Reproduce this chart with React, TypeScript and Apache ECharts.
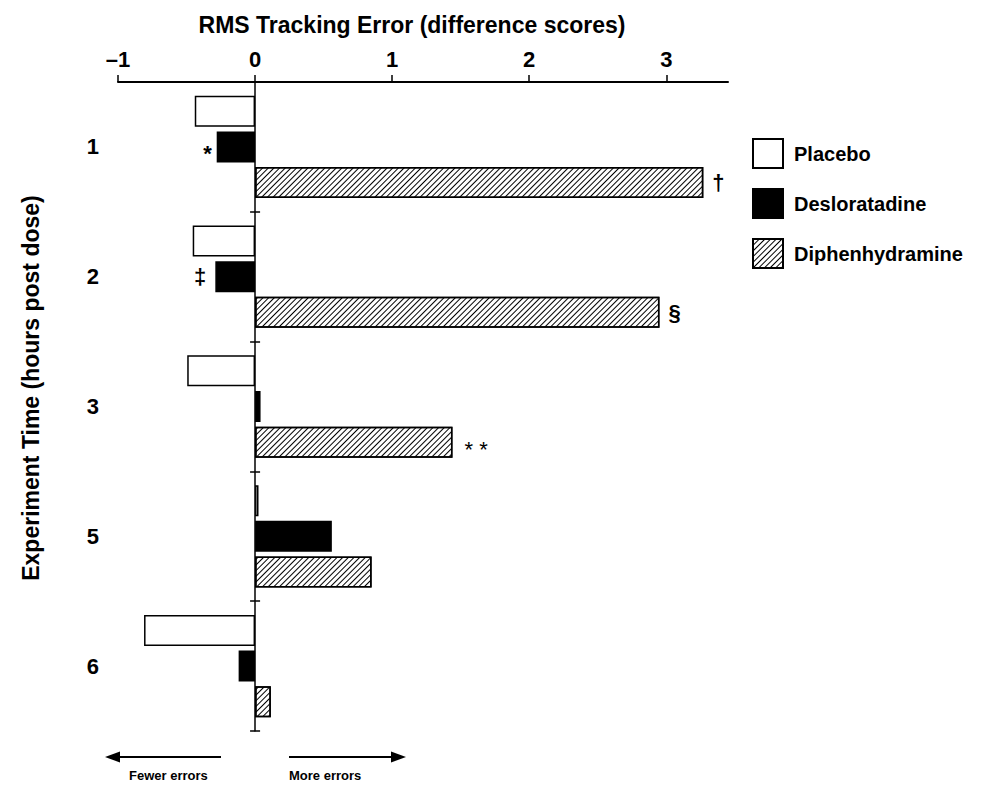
import React, { useEffect, useRef } from 'react';
import * as echarts from 'echarts';

const categories = ['1', '2', '3', '5', '6'];
const placebo = [-0.44, -0.455, -0.495, 0.025, -0.81];
const desloratadine = [-0.28, -0.29, 0.04, 0.56, -0.12];
const diphenhydramine = [3.27, 2.95, 1.44, 0.85, 0.115];
const desloratadineMarks = ['*', '‡', '', '', ''];
const diphenhydramineMarks = ['†', '§', '* *', '', ''];
const xTicks = [-1, 0, 1, 2, 3];
const seriesNames = ['Placebo', 'Desloratadine', 'Diphenhydramine'];
const titleText = 'RMS Tracking Error (difference scores)';
const yTitleText = 'Experiment Time (hours post dose)';

const FONT = "'Liberation Sans', Arial, Helvetica, sans-serif";
const X_MIN = -1;
const X_MAX = 3.45;
const GRID_LEFT = 118;
const GRID_RIGHT_EDGE = 728;

function withMarks(values: number[], marks: string[]) {
  return values.map((v, i) => {
    const m = marks[i];
    if (!m) return { value: v };
    const isAst = m.indexOf('*') >= 0;
    return {
      value: v,
      label: {
        show: true,
        position: v < 0 ? 'left' : 'right',
        formatter: m,
        distance: m === '*' ? 5 : m === '* *' ? 12 : 9,
        offset: isAst ? [0, 7] : [0, 0],
        color: '#000',
        fontFamily: FONT,
        fontSize: 22,
        fontWeight: m === '* *' ? 'normal' : 'bold',
      },
    };
  });
}

export default function App() {
  const ref = useRef<HTMLDivElement>(null);
  useEffect(() => {
    if (!ref.current) return;
    const chart = echarts.init(ref.current, undefined, { renderer: 'svg' });
    const hatch = {
      symbol: 'rect',
      symbolSize: 1,
      dashArrayX: [1, 0],
      dashArrayY: [1, 2.3],
      rotation: -Math.PI / 4,
      color: '#000',
    };
    const common = {
      type: 'bar',
      barWidth: 31,
      barGap: '15%',
      yAxisIndex: 0,
    };
    // offset of the zero line from the grid's left edge, for the inner half of the crossing ticks
    const zeroOffset = ((0 - X_MIN) / (X_MAX - X_MIN)) * (GRID_RIGHT_EDGE - GRID_LEFT);
    chart.setOption({
      animation: false,
      backgroundColor: '#fff',
      textStyle: { fontFamily: FONT, color: '#000' },
      title: {
        text: titleText,
        left: 407,
        textAlign: 'center',
        top: 8,
        textStyle: { fontFamily: FONT, fontSize: 23, fontWeight: 'bold', color: '#000' },
      },
      legend: {
        orient: 'vertical',
        left: 752,
        top: 138,
        padding: 0,
        itemWidth: 30,
        itemHeight: 29,
        itemGap: 19,
        icon: 'rect',
        data: seriesNames,
        textStyle: { fontFamily: FONT, fontSize: 20, fontWeight: 'bold', color: '#000', padding: [0, 0, 0, 6] },
      },
      grid: {
        left: GRID_LEFT,
        right: 985 - GRID_RIGHT_EDGE,
        top: 82,
        bottom: 54,
        containLabel: false,
        outerBoundsMode: 'none',
      },
      xAxis: {
        type: 'value',
        position: 'top',
        min: X_MIN,
        max: X_MAX,
        interval: 1,
        splitLine: { show: false },
        axisLine: { show: true, lineStyle: { color: '#000', width: 2 } },
        axisTick: { show: true, length: 7, customValues: xTicks, lineStyle: { color: '#000', width: 1.5 } },
        axisLabel: {
          customValues: xTicks,
          margin: 12,
          fontFamily: FONT,
          fontSize: 22,
          fontWeight: 'bold',
          color: '#000',
          formatter: (v: number) => (v < 0 ? '\u2013' + Math.abs(v) : String(v)),
        },
      },
      yAxis: [
        {
          type: 'category',
          inverse: true,
          data: categories,
          axisLine: { show: true, onZero: true, lineStyle: { color: '#000', width: 1.5 } },
          axisTick: { show: true, length: 5, lineStyle: { color: '#000', width: 1.5 } },
          axisLabel: { margin: 19, fontFamily: FONT, fontSize: 22, fontWeight: 'bold', color: '#000' },
          splitLine: { show: false },
        },
        {
          type: 'category',
          inverse: true,
          position: 'left',
          offset: -zeroOffset,
          data: categories,
          axisLine: { show: false, onZero: false },
          axisTick: { show: true, inside: true, length: 5, lineStyle: { color: '#000', width: 1.5 } },
          axisLabel: { show: false },
          splitLine: { show: false },
        },
      ],
      graphic: [
        {
          type: 'text',
          x: 31,
          y: 388,
          rotation: Math.PI / 2,
          style: {
            text: yTitleText,
            fontFamily: FONT,
            fontSize: 23,
            fontWeight: 'bold',
            fill: '#000',
            align: 'center',
            verticalAlign: 'middle',
          },
        },
        { type: 'line', shape: { x1: 221, y1: 757, x2: 116, y2: 757 }, style: { stroke: '#000', lineWidth: 2 } },
        { type: 'polygon', shape: { points: [[105, 757], [120, 751.5], [120, 762.5]] }, style: { fill: '#000' } },
        { type: 'line', shape: { x1: 289, y1: 757, x2: 395, y2: 757 }, style: { stroke: '#000', lineWidth: 2 } },
        { type: 'polygon', shape: { points: [[406, 757], [391, 751.5], [391, 762.5]] }, style: { fill: '#000' } },
        {
          type: 'text', x: 129, y: 775,
          style: { text: 'Fewer errors', fontFamily: FONT, fontSize: 13, fontWeight: 'bold', fill: '#000', verticalAlign: 'middle' },
        },
        {
          type: 'text', x: 289, y: 775,
          style: { text: 'More errors', fontFamily: FONT, fontSize: 13, fontWeight: 'bold', fill: '#000', verticalAlign: 'middle' },
        },
      ],
      series: [
        {
          ...common,
          name: seriesNames[0],
          data: placebo,
          itemStyle: { color: '#fff', borderColor: '#000', borderWidth: 1.5 },
        },
        {
          ...common,
          name: seriesNames[1],
          data: withMarks(desloratadine, desloratadineMarks),
          itemStyle: { color: '#000', borderColor: '#000', borderWidth: 1.5 },
        },
        {
          ...common,
          name: seriesNames[2],
          data: withMarks(diphenhydramine, diphenhydramineMarks),
          itemStyle: { color: '#fff', borderColor: '#000', borderWidth: 1.5, decal: hatch },
        },
      ],
    });
    return () => chart.dispose();
  }, []);
  return (
    <div
      ref={ref}
      style={{ position: 'fixed', left: 0, top: 0, width: 985, height: 785, background: '#fff' }}
    />
  );
}
